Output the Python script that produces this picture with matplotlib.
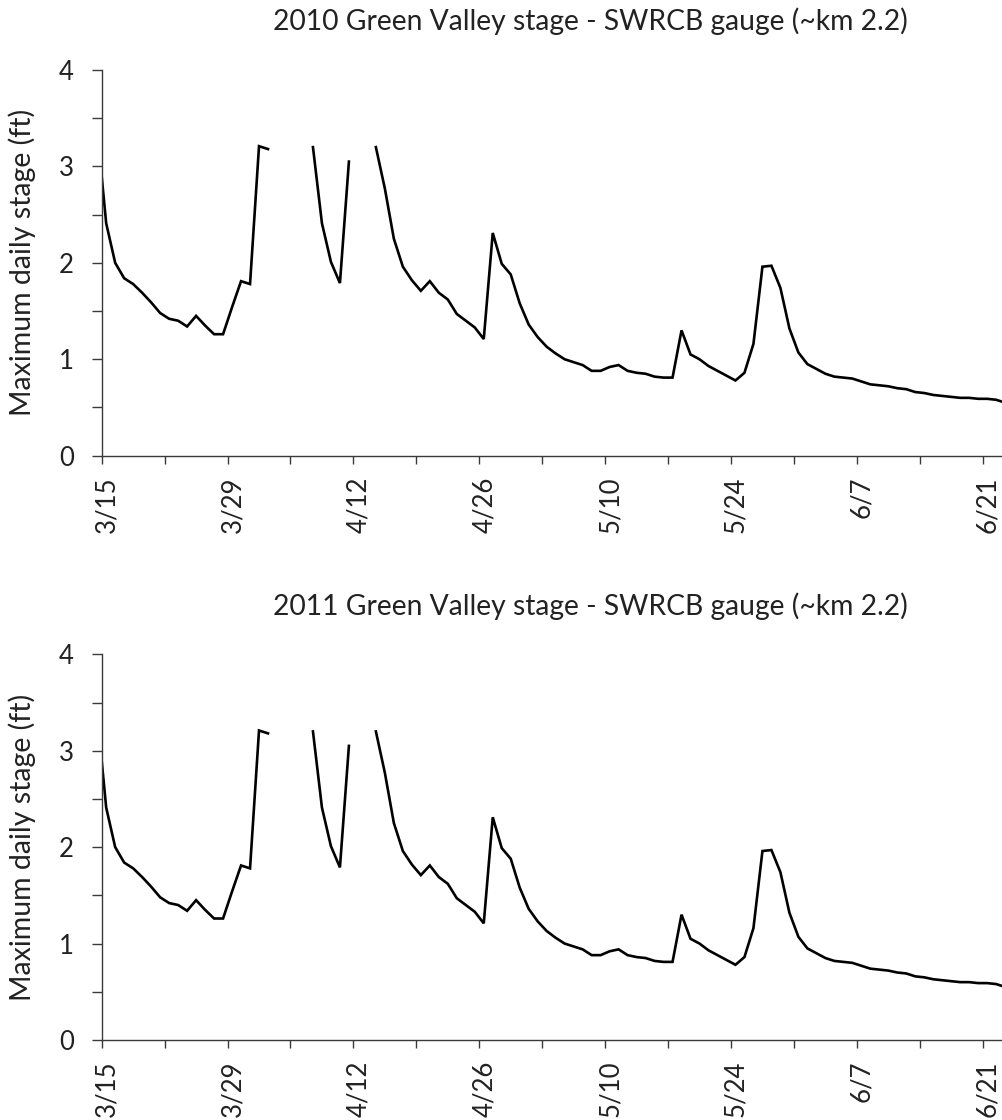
import numpy as np
import pandas as pd
import matplotlib.pyplot as plt
from matplotlib.ticker import FixedLocator, MultipleLocator
from matplotlib.transforms import ScaledTranslation, blended_transform_factory
import matplotlib.dates as mdates

plt.rcParams['font.family'] = ['Lato', 'DejaVu Sans']

# daily maximum stage (ft), one value per day starting 3/14; NaN = no record
stage_ft = [
    3.38, 2.41, 2.00, 1.84, 1.78, 1.69, 1.59, 1.48, 1.42, 1.40,
    1.34, 1.45, 1.35, 1.26, 1.26, 1.54, 1.81, 1.78, 3.21, 3.18,
    np.nan, np.nan, np.nan, np.nan, 3.20, 2.41, 2.01, 1.79, 3.05, np.nan,
    np.nan, 3.20, 2.77, 2.25, 1.96, 1.82, 1.71, 1.81, 1.69, 1.62,
    1.47, 1.40, 1.33, 1.21, 2.31, 1.99, 1.88, 1.58, 1.36, 1.23,
    1.13, 1.06, 1.00, 0.97, 0.94, 0.88, 0.88, 0.92, 0.94, 0.88,
    0.86, 0.85, 0.82, 0.81, 0.81, 1.30, 1.05, 1.00, 0.93, 0.88,
    0.83, 0.78, 0.86, 1.16, 1.96, 1.97, 1.74, 1.32, 1.07, 0.95,
    0.90, 0.85, 0.82, 0.81, 0.80, 0.77, 0.74, 0.73, 0.72, 0.70,
    0.69, 0.66, 0.65, 0.63, 0.62, 0.61, 0.60, 0.60, 0.59, 0.59,
    0.58, 0.55,
]
years = [2010, 2011]
tick_labels = ['3/15', '3/29', '4/12', '4/26', '5/10', '5/24', '6/7', '6/21']
y_ticks = [0, 1, 2, 3, 4]

W, H = 1003, 1120
fig = plt.figure(figsize=(W / 100, H / 100), dpi=100)

ax_left = 101.7 / W
ax_w = 1 - ax_left
ax_h = 385.7 / H
bottoms = [(H - 455.7) / H, (H - 1040) / H]
title_y = [1 - 21 / H, 1 - 606 / H]
axis_color = '#3a3a3a'
text_color = '#222222'

for year, bot, ty in zip(years, bottoms, title_y):
    ax = fig.add_axes([ax_left, bot, ax_w, ax_h])
    dates = pd.date_range(f'{year}-03-14 12:00', periods=len(stage_ft), freq='D')
    ax.plot(dates, stage_ft, color='black', lw=1.9, solid_joinstyle='miter')

    start = pd.Timestamp(f'{year}-03-15')
    ax.set_xlim(start, start + pd.Timedelta(days=100.26))
    ax.set_ylim(0, 4)

    major = pd.date_range(start, periods=len(tick_labels), freq='14D')
    minor = pd.date_range(start, periods=15, freq='7D')
    ax.xaxis.set_major_locator(FixedLocator(mdates.date2num(major)))
    ax.xaxis.set_minor_locator(FixedLocator(mdates.date2num(minor)))
    ax.set_xticklabels(tick_labels, rotation=90, fontsize=18.5)
    ax.set_yticks(y_ticks)
    ax.set_yticklabels([str(v) for v in y_ticks], fontsize=18.5)
    ax.yaxis.set_minor_locator(MultipleLocator(0.5))

    for s in ['top', 'right']:
        ax.spines[s].set_visible(False)
    for s in ['left', 'bottom']:
        ax.spines[s].set_color(axis_color)
        ax.spines[s].set_linewidth(1.0)

    ax.tick_params(axis='both', which='both', direction='out', color=axis_color,
                   width=1.0, labelcolor=text_color)
    ax.tick_params(axis='y', which='both', length=7, pad=13)
    ax.tick_params(axis='x', which='both', length=6, pad=9)
    shift = ScaledTranslation(5 / 100, 0, fig.dpi_scale_trans)
    for lab in ax.get_xticklabels():
        lab.set_transform(lab.get_transform() + shift)

    ax.set_ylabel('Maximum daily stage (ft)', fontsize=20.5, color=text_color)
    ax.yaxis.set_label_coords(22 / W, 0.5,
                              transform=blended_transform_factory(fig.transFigure, ax.transAxes))
    ax.yaxis.label.set_va('center')

    fig.text(590 / W, ty, f'{year} Green Valley stage - SWRCB gauge (~km 2.2)',
             ha='center', va='center', fontsize=20.3, color=text_color)

fig.savefig('out.png', dpi=100)
